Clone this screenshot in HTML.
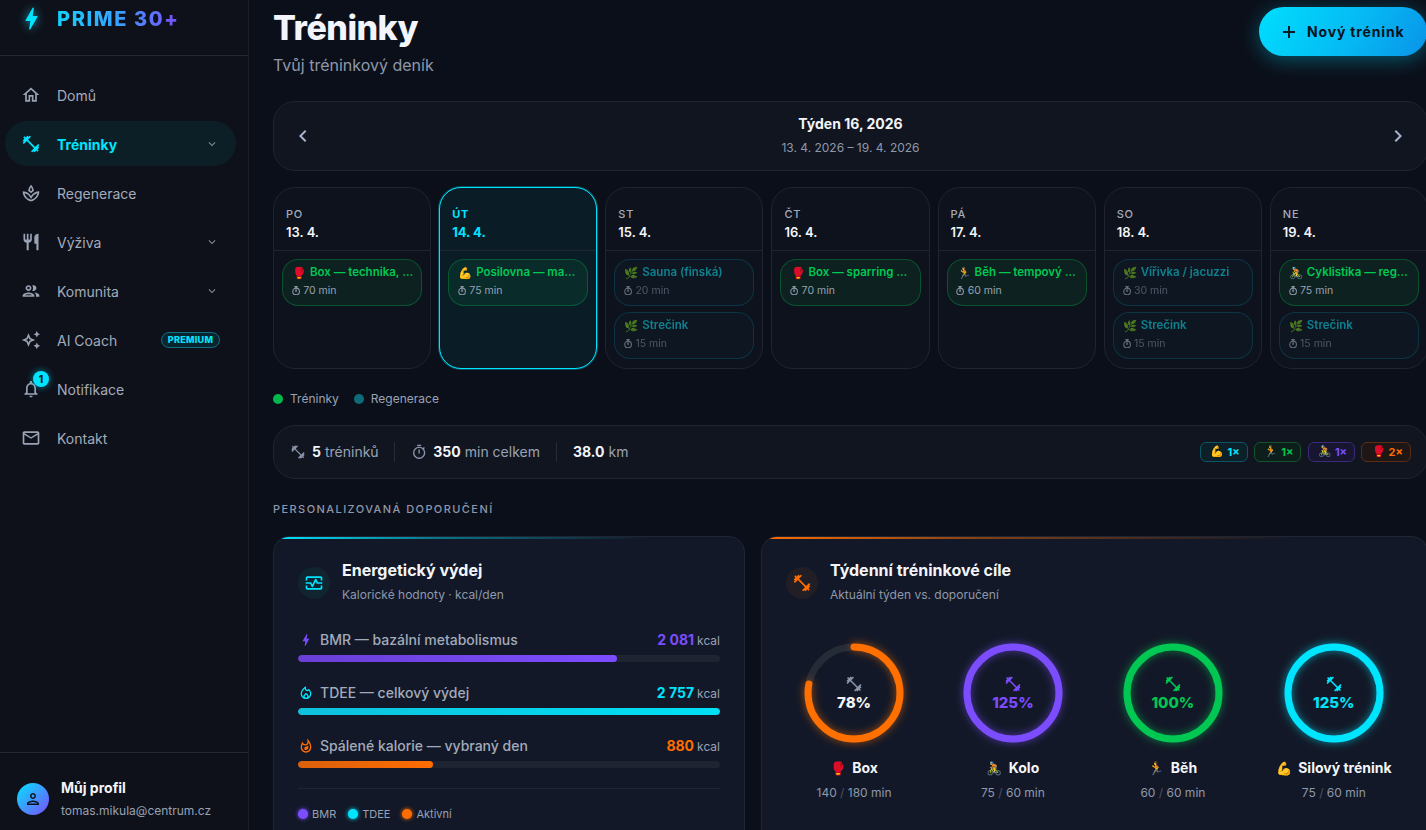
<!DOCTYPE html>
<html lang="cs">
<head>
<meta charset="utf-8">
<title>Tréninky – PRIME 30+</title>
<style>
*{box-sizing:border-box;margin:0;padding:0}
html,body{width:1426px;height:830px;overflow:hidden}
body{background:#0b0f19;font-family:"Inter","Liberation Sans",sans-serif;color:#e6e9ef;position:relative;-webkit-font-smoothing:antialiased}
.emo{font-family:"Noto Color Emoji",sans-serif;font-weight:400}
svg{display:block}
/* SIDEBAR */
.side{position:absolute;left:0;top:0;width:249px;height:830px;background:#0e111a;border-right:1px solid #1d1f26}
.brand{position:absolute;left:0;top:0;width:248px;height:56px;border-bottom:1px solid #232833}
.bolt{position:absolute;left:16.5px;top:4.2px;width:29px;height:29px;filter:drop-shadow(0 0 5px rgba(34,211,238,.75))}
.brandtxt{position:absolute;left:57px;top:7px;font-size:20px;font-weight:800;letter-spacing:.08em;line-height:24px;background:linear-gradient(90deg,#12d2ff 0%,#3aa0ff 50%,#7c4dff 100%);-webkit-background-clip:text;background-clip:text;color:transparent}
.nav{position:absolute;left:0;top:0;width:247px}
.ni{position:absolute;left:5px;width:231px;height:45px;border-radius:23px;display:flex;align-items:center}
.ni svg.ic{position:absolute;left:16.3px;top:13.2px;width:20px;height:20px;fill:#9aa3b5}
.ni .lb{position:absolute;left:52px;top:13.8px;font-size:14px;font-weight:400;color:#a3abbb;line-height:20px}
.ni .chev{position:absolute;left:200px;width:14px;height:14px;fill:#7d8699}
.ni.act{background:#0c1f26}
.ni.act .lb{color:#00e5ff;font-weight:700}
.ni.act svg.ic{fill:#00e5ff}
.prem{position:absolute;left:156px;top:15px;width:59px;height:16px;border-radius:8px;border:1px solid #0e6f80;background:#0b2530;color:#00e5ff;font-size:9px;font-weight:800;letter-spacing:.03em;line-height:14px;text-align:center}
.nbadge{position:absolute;left:28px;top:4.8px;width:16px;height:16px;border-radius:50%;background:#00e5ff;color:#031820;font-size:10px;font-weight:800;line-height:16px;box-shadow:0 0 7px rgba(0,229,255,.55);text-align:center}
.prof{position:absolute;left:0;top:752px;width:248px;height:78px;border-top:1px solid #232833}
.avatar{position:absolute;left:17px;top:30px;width:32px;height:32px;border-radius:50%;background:linear-gradient(135deg,#00e5ff,#7c4dff)}
.pname{position:absolute;left:61px;top:26px;font-size:14px;font-weight:700;color:#f3f5f9;line-height:18px}
.pmail{position:absolute;left:61px;top:50px;font-size:12px;color:#98a1b3;line-height:16px}
/* MAIN */
.main{position:absolute;left:273px;top:0;width:1153px}
h1{position:absolute;left:0;top:6px;font-size:34px;font-weight:800;letter-spacing:-.015em;color:#f3f5fa;line-height:44px;white-space:nowrap}
.sub{position:absolute;left:0;top:55px;font-size:16px;color:#8f98ab;line-height:20px}
.newbtn{position:absolute;left:986px;top:7px;width:168px;height:49px;border-radius:25px;background:linear-gradient(120deg,#00defe 0%,#05baf4 55%,#0a93e8 100%);box-shadow:0 4px 20px rgba(0,200,240,.38);color:#06121b;font-size:14px;font-weight:700}

.newbtn svg{position:absolute;left:24px;top:19px;width:12px;height:12px}
.newbtn span{position:absolute;left:48px;top:16px;line-height:18px;letter-spacing:.06em;white-space:nowrap}
.week{position:absolute;left:0;top:101px;width:1155px;height:70px;border:1px solid #1f2430;border-radius:22px;background:#111520}
.week .arr{position:absolute;top:22px;width:24px;height:24px;fill:#a6b4ca}
.week .wt{position:absolute;left:0;right:0;top:13.4px;text-align:center;font-size:14px;font-weight:700;color:#f3f5f9;line-height:18px}
.week .wd{position:absolute;left:0;right:0;top:38px;text-align:center;font-size:12px;color:#8f98ab;line-height:16px}
.days{position:absolute;left:0;top:187px;width:1155px;height:182px;display:grid;grid-template-columns:repeat(7,1fr);gap:8px}
.day{border:1px solid #1f2430;border-radius:22px;background:#0e121c;overflow:hidden}
.day.today{border:1px solid #00e5ff;background:#0a1d27;box-shadow:0 0 0 1px rgba(0,229,255,.3)}
.dh{height:63px;border-bottom:1px solid #1f2430;padding:19px 0 0 12px}
.dn{font-size:11px;font-weight:500;letter-spacing:.07em;color:#a3abbb;line-height:14px}
.dd{font-size:13px;font-weight:600;color:#f3f5f9;line-height:18px;margin-top:2px}
.day.today .dn,.day.today .dd{color:#00e5ff}
.day.today .dn{font-weight:700}
.day.today .dd{font-weight:700}
.ss{padding:8px 8px 0}
.pill{height:46.5px;border-radius:16px;border:1px solid rgba(0,200,83,.3);background:rgba(0,200,83,.085);padding:4.2px 0 0 10px;margin-bottom:6.5px;white-space:nowrap;overflow:hidden}
.pill.rg{border-color:rgba(8,145,178,.35);background:#0f1a24;opacity:.7}
.pt{font-size:11.5px;font-weight:600;color:#00c853;line-height:16px;display:flex;align-items:center}
.pill.rg .pt{color:#0fb0c0}
.pt .emo{font-size:11.5px;width:17px;display:inline-block;position:relative;top:.8px;left:-.5px}
.pm{position:relative;padding-left:10.2px;font-size:10.5px;color:#98a1b3;line-height:14px;margin-top:4.3px}
.pill.rg .pm{color:#6b7486}
.pm .tm{position:absolute;left:-1.2px;top:1.4px;width:8.2px;height:9.4px;fill:#8a93a5;stroke:#8a93a5}
.legend{position:absolute;left:0;top:391px;height:16px;display:flex;align-items:center;font-size:12px;color:#9aa3b5;line-height:16px}
.legend b{display:inline-block;width:10px;height:10px;border-radius:50%;margin-right:7px}
.stats{position:absolute;left:0;top:425px;width:1155px;height:54px;border:1px solid #1f2430;border-radius:22px;background:#111520}
.st{position:absolute;top:17px;line-height:18px;font-size:14px;color:#9aa3b5;white-space:nowrap;display:flex;align-items:center}
.st b{color:#f3f5f9;font-weight:700;margin-right:4px}
.st svg{width:16px;height:16px;fill:#8a94a8;margin-right:6px}
.vsep{position:absolute;top:16px;width:1px;height:20px;background:#262b37}
.chips{position:absolute;right:16px;top:16px;display:flex;gap:6.3px}
.chip{height:20px;border-radius:6px;border:1px solid;padding:0 7px 0 9.5px;display:flex;align-items:center;font-size:11px;font-weight:700;line-height:18px}
.chip .emo{font-size:11px;margin-right:3px}
.seclbl{position:absolute;left:0;top:501.8px;font-size:11px;font-weight:500;letter-spacing:.13em;color:#8f98ab;line-height:14px;white-space:nowrap}
.card{position:absolute;top:536px;height:320px;border:1px solid #1f2533;border-radius:16px;background:#121827;overflow:hidden}
.card .topline{position:absolute;left:0;top:0;right:0;height:2px}
.cic{position:absolute;left:24px;top:30px;width:32px;height:32px;border-radius:50%}
.cic svg{position:absolute;left:6px;top:6px;width:20px;height:20px}
.ctitle{position:absolute;left:68px;top:23.2px;font-size:16px;font-weight:700;color:#f3f5f9;line-height:20px;white-space:nowrap}
.csub{position:absolute;left:68px;top:50px;font-size:12px;color:#8f98ab;line-height:16px;white-space:nowrap}
.mrow{position:absolute;left:24px;width:422px}
.mrow .ml{position:absolute;left:0;top:0;display:flex;align-items:center;font-size:14px;font-weight:500;color:#a3abbb;line-height:18px;white-space:nowrap}
.mrow .ml svg{width:16px;height:16px;margin-right:6px}
.mrow .mv{position:absolute;right:0;top:0;font-size:14px;font-weight:700;line-height:18px;white-space:nowrap}
.mrow .mv small{font-size:12px;font-weight:400;color:#98a1b3;margin-left:3px}
.bar{position:absolute;left:0;top:24px;width:422px;height:7px;border-radius:4px;background:#1e2431;overflow:hidden}
.bar i{position:absolute;left:0;top:0;bottom:0;border-radius:4px}
.hr{position:absolute;left:24px;width:422px;height:1px;background:#1f2533}
.clg{position:absolute;left:24px;display:flex;align-items:center;font-size:11px;color:#98a1b3;line-height:14px}
.clg b{display:inline-block;width:10px;height:10px;border-radius:50%;margin-right:4px;box-shadow:0 0 4px currentColor}
.ring{position:absolute;top:100.2px;width:136px;text-align:center}
.ring svg.rs{display:block;margin:0 auto;width:112px;height:112px;overflow:visible}
.rin{position:absolute;left:0;right:0;top:37.9px}
.rin svg{width:18px;height:18px;margin:0 auto}
.rin div{font-size:15px;font-weight:800;line-height:18px;margin-top:.5px}
.rlab{position:absolute;left:0;right:0;top:122px;font-size:14px;font-weight:700;color:#f3f5f9;line-height:18px;white-space:nowrap}
.rlab .emo{font-size:13px;margin-right:6px}
.rsub{position:absolute;left:0;right:0;top:148px;font-size:12px;color:#8f98ab;line-height:16px;white-space:nowrap}
.rsub em{font-style:normal;color:#4a5264}
</style>
</head>
<body>
<aside class="side">
  <div class="brand">
    <svg class="bolt" viewBox="0 0 24 24"><path fill="#00e5ff" d="M11 21h-1l1-7H7.5c-.58 0-.57-.32-.38-.66.19-.34.05-.08.07-.12C8.48 10.94 10.42 7.54 13 3h1l-1 7h3.5c.49 0 .56.33.47.51l-.07.15C12.960 17.55 11 21 11 21z"/></svg>
    <div class="brandtxt">PRIME 30+</div>
  </div>
  <nav class="nav">
  <div class="ni" style="top:72px"><svg class="ic" viewBox="0 0 24 24"><path d="M12 5.69l5 4.5V18h-2v-6H9v6H7v-7.81l5-4.5M12 3L2 12h3v8h6v-6h2v6h6v-8h3L12 3z"/></svg><span class="lb">Domů</span></div>
  <div class="ni act" style="top:121px"><svg class="ic" viewBox="0 0 24 24"><path d="M20.57 14.86L22 13.43 20.57 12 17 15.57 8.43 7 12 3.43 10.57 2 9.14 3.43 7.71 2 5.57 4.14 4.14 2.71 2.71 4.14l1.43 1.43L2 7.71l1.43 1.43L2 10.57 3.43 12 7 8.43 15.57 17 12 20.57 13.43 22l1.43-1.43L16.29 22l2.14-2.14 1.43 1.43 1.43-1.43-1.43-1.43L22 16.29z"/></svg><span class="lb">Tréninky</span><svg class="chev" viewBox="0 0 24 24"><path d="M16.59 8.59L12 13.17 7.41 8.59 6 10l6 6 6-6z"/></svg></div>
  <div class="ni" style="top:170px"><svg class="ic" viewBox="0 0 24 24"><path d="M15.49 9.63c-.18-2.79-1.31-5.51-3.43-7.63-2.14 2.14-3.32 4.86-3.55 7.63 1.28.68 2.46 1.56 3.49 2.63 1.03-1.06 2.21-1.94 3.49-2.63zm-3.44-4.44c.63 1.03 1.07 2.18 1.3 3.38-.47.3-.91.63-1.34.98-.42-.34-.87-.67-1.33-.97.25-1.2.71-2.35 1.37-3.39zM12 15.45c-.82-1.25-1.86-2.34-3.06-3.2-.13-.09-.27-.16-.4-.26.13.09.27.17.39.25C6.98 10.83 4.59 10 2 10c0 5.32 3.36 9.82 8.03 11.49.63.23 1.29.4 1.970.51.68-.12 1.33-.29 1.97-.51C18.64 19.82 22 15.32 22 10c-4.18 0-7.850 2.17-10 5.450zm1.32 4.15c-.44.15-.88.27-1.33.37-.44-.09-.87-.21-1.28-.36-3.29-1.18-5.7-3.99-6.45-7.35 1.1.26 2.15.71 3.12 1.33l-.02.01c.13.09.26.18.39.25l.07.04c.99.72 1.84 1.61 2.51 2.65L12 19.1l1.67-2.55c.69-1.05 1.55-1.95 2.53-2.66l.07-.05c.09-.05.18-.11.27-.17l-.01-.02c.98-.65 2.07-1.13 3.2-1.4-.75 3.37-3.15 6.18-6.41 7.35z"/></svg><span class="lb">Regenerace</span></div>
  <div class="ni" style="top:219px"><svg class="ic" viewBox="0 0 24 24"><path d="M11 9H9V2H7v7H5V2H3v7c0 2.12 1.66 3.84 3.75 3.97V22h2.5v-9.03C11.34 12.84 13 11.12 13 9V2h-2v7zm5-3v8h2.5v8H21V2c-2.76 0-5 2.24-5 4z"/></svg><span class="lb">Výživa</span><svg class="chev" viewBox="0 0 24 24"><path d="M16.59 8.59L12 13.17 7.41 8.59 6 10l6 6 6-6z"/></svg></div>
  <div class="ni" style="top:268px"><svg class="ic" viewBox="0 0 24 24"><path d="M9 13.75c-2.34 0-7 1.17-7 3.5V19h14v-1.75c0-2.33-4.66-3.5-7-3.5zM4.34 17c.84-.58 2.87-1.25 4.66-1.25s3.82.67 4.66 1.25H4.34zM9 12c1.93 0 3.5-1.57 3.5-3.5S10.93 5 9 5 5.5 6.57 5.5 8.5 7.07 12 9 12zm0-5c.83 0 1.5.67 1.5 1.5S9.830 10 9 10s-1.5-.67-1.5-1.5S8.17 7 9 7zm7.04 6.81c1.16.84 1.96 1.96 1.96 3.44V19h4v-1.75c0-2.02-3.5-3.17-5.96-3.44zM15 12c1.93 0 3.5-1.57 3.5-3.5S16.93 5 15 5c-.54 0-1.040.13-1.5.35.63.89 1 1.98 1 3.15s-.37 2.26-1 3.15c.46.22.96.35 1.5.35z"/></svg><span class="lb">Komunita</span><svg class="chev" viewBox="0 0 24 24"><path d="M16.59 8.59L12 13.17 7.41 8.59 6 10l6 6 6-6z"/></svg></div>
  <div class="ni" style="top:317px"><svg class="ic" viewBox="0 0 24 24"><path d="M19 9l1.25-2.75L23 5l-2.75-1.25L19 1l-1.25 2.75L15 5l2.75 1.25L19 9zm-7.5.5L9 4 6.5 9.5 1 12l5.5 2.5L9 20l2.5-5.5L17 12l-5.5-2.5zM9.99 12.99 9 15.17l-.99-2.18L5.83 12l2.18-.99L9 8.83l.99 2.18 2.18.99-2.18.99zM19 15l-1.25 2.75L15 19l2.75 1.25L19 23l1.25-2.75L23 19l-2.75-1.25L19 15z"/></svg><span class="lb">AI Coach</span><span class="prem">PREMIUM</span></div>
  <div class="ni" style="top:366px"><svg class="ic" viewBox="0 0 24 24"><path d="M12 22c1.1 0 2-.9 2-2h-4c0 1.1.89 2 2 2zm6-6v-5c0-3.07-1.64-5.64-4.5-6.32V4c0-.83-.67-1.5-1.5-1.5s-1.5.67-1.5 1.5v.68C7.63 5.36 6 7.92 6 11v5l-2 2v1h16v-1l-2-2zm-2 1H8v-6c0-2.48 1.51-4.5 4-4.5s4 2.02 4 4.5v6z"/></svg><span class="lb">Notifikace</span><span class="nbadge">1</span></div>
  <div class="ni" style="top:415px"><svg class="ic" viewBox="0 0 24 24"><path d="M22 6c0-1.1-.9-2-2-2H4c-1.1 0-2 .9-2 2v12c0 1.1.9 2 2 2h16c1.1 0 2-.9 2-2V6zm-2 0l-8 5-8-5h16zm0 12H4V8l8 5 8-5v10z"/></svg><span class="lb">Kontakt</span></div>
  </nav>
  <div class="prof">
    <div class="avatar"><svg viewBox="0 0 24 24" style="position:absolute;left:7px;top:7px;width:18px;height:18px"><path fill="#0b1220" d="M12 6c1.1 0 2 .9 2 2s-.9 2-2 2-2-.9-2-2 .9-2 2-2m0 10c2.7 0 5.8 1.29 6 2H6c.23-.72 3.31-2 6-2m0-12C9.79 4 8 5.790 8 8s1.79 4 4 4 4-1.79 4-4-1.79-4-4-4zm0 10c-2.67 0-8 1.34-8 4v2h16v-2c0-2.66-5.33-4-8-4z"/></svg></div>
    <div class="pname">Můj profil</div>
    <div class="pmail">tomas.mikula@centrum.cz</div>
  </div>
</aside>
<main class="main">
  <h1>Tréninky</h1>
  <div class="sub">Tvůj tréninkový deník</div>
  <div class="newbtn"><svg viewBox="0 0 12 12"><path d="M6 0v12M0 6h12" stroke="#0a1a24" stroke-width="2"/></svg><span>Nový trénink</span></div>
  <div class="week">
    <svg class="arr" style="left:17px" viewBox="0 0 24 24"><path d="M15.41 7.41L14 6l-6 6 6 6 1.41-1.41L10.83 12z"/></svg>
    <div class="wt">Týden 16, 2026</div>
    <div class="wd">13. 4. 2026 – 19. 4. 2026</div>
    <svg class="arr" style="right:17px" viewBox="0 0 24 24"><path d="M8.59 16.59L10 18l6-6-6-6-1.41 1.41L13.17 12z"/></svg>
  </div>
  <div class="days">
    <div class="day"><div class="dh"><div class="dn">PO</div><div class="dd">13. 4.</div></div><div class="ss"><div class="pill"><div class="pt"><span class="emo">🥊</span>Box — technika, …</div><div class="pm"><svg class="tm" viewBox="0 0 8.2 9.4"><rect x="2.85" y="0" width="2.5" height="1.1" rx=".3"/><rect x="3.65" y="1" width=".9" height="1.1"/><circle cx="4.1" cy="5.5" r="3.35" fill="none" stroke-width="1.1"/><rect x="3.6" y="3.6" width="1" height="2.2" rx=".4" opacity=".8"/></svg>70 min</div></div></div></div>
    <div class="day today"><div class="dh"><div class="dn">ÚT</div><div class="dd">14. 4.</div></div><div class="ss"><div class="pill"><div class="pt"><span class="emo">💪</span>Posilovna — ma…</div><div class="pm"><svg class="tm" viewBox="0 0 8.2 9.4"><rect x="2.85" y="0" width="2.5" height="1.1" rx=".3"/><rect x="3.65" y="1" width=".9" height="1.1"/><circle cx="4.1" cy="5.5" r="3.35" fill="none" stroke-width="1.1"/><rect x="3.6" y="3.6" width="1" height="2.2" rx=".4" opacity=".8"/></svg>75 min</div></div></div></div>
    <div class="day"><div class="dh"><div class="dn">ST</div><div class="dd">15. 4.</div></div><div class="ss"><div class="pill rg"><div class="pt"><span class="emo">🌿</span>Sauna (finská)</div><div class="pm"><svg class="tm" viewBox="0 0 8.2 9.4"><rect x="2.85" y="0" width="2.5" height="1.1" rx=".3"/><rect x="3.65" y="1" width=".9" height="1.1"/><circle cx="4.1" cy="5.5" r="3.35" fill="none" stroke-width="1.1"/><rect x="3.6" y="3.6" width="1" height="2.2" rx=".4" opacity=".8"/></svg>20 min</div></div><div class="pill rg"><div class="pt"><span class="emo">🌿</span>Strečink</div><div class="pm"><svg class="tm" viewBox="0 0 8.2 9.4"><rect x="2.85" y="0" width="2.5" height="1.1" rx=".3"/><rect x="3.65" y="1" width=".9" height="1.1"/><circle cx="4.1" cy="5.5" r="3.35" fill="none" stroke-width="1.1"/><rect x="3.6" y="3.6" width="1" height="2.2" rx=".4" opacity=".8"/></svg>15 min</div></div></div></div>
    <div class="day"><div class="dh"><div class="dn">ČT</div><div class="dd">16. 4.</div></div><div class="ss"><div class="pill"><div class="pt"><span class="emo">🥊</span>Box — sparring …</div><div class="pm"><svg class="tm" viewBox="0 0 8.2 9.4"><rect x="2.85" y="0" width="2.5" height="1.1" rx=".3"/><rect x="3.65" y="1" width=".9" height="1.1"/><circle cx="4.1" cy="5.5" r="3.35" fill="none" stroke-width="1.1"/><rect x="3.6" y="3.6" width="1" height="2.2" rx=".4" opacity=".8"/></svg>70 min</div></div></div></div>
    <div class="day"><div class="dh"><div class="dn">PÁ</div><div class="dd">17. 4.</div></div><div class="ss"><div class="pill"><div class="pt"><span class="emo">🏃</span>Běh — tempový …</div><div class="pm"><svg class="tm" viewBox="0 0 8.2 9.4"><rect x="2.85" y="0" width="2.5" height="1.1" rx=".3"/><rect x="3.65" y="1" width=".9" height="1.1"/><circle cx="4.1" cy="5.5" r="3.35" fill="none" stroke-width="1.1"/><rect x="3.6" y="3.6" width="1" height="2.2" rx=".4" opacity=".8"/></svg>60 min</div></div></div></div>
    <div class="day"><div class="dh"><div class="dn">SO</div><div class="dd">18. 4.</div></div><div class="ss"><div class="pill rg"><div class="pt"><span class="emo">🌿</span>Vířivka / jacuzzi</div><div class="pm"><svg class="tm" viewBox="0 0 8.2 9.4"><rect x="2.85" y="0" width="2.5" height="1.1" rx=".3"/><rect x="3.65" y="1" width=".9" height="1.1"/><circle cx="4.1" cy="5.5" r="3.35" fill="none" stroke-width="1.1"/><rect x="3.6" y="3.6" width="1" height="2.2" rx=".4" opacity=".8"/></svg>30 min</div></div><div class="pill rg"><div class="pt"><span class="emo">🌿</span>Strečink</div><div class="pm"><svg class="tm" viewBox="0 0 8.2 9.4"><rect x="2.85" y="0" width="2.5" height="1.1" rx=".3"/><rect x="3.65" y="1" width=".9" height="1.1"/><circle cx="4.1" cy="5.5" r="3.35" fill="none" stroke-width="1.1"/><rect x="3.6" y="3.6" width="1" height="2.2" rx=".4" opacity=".8"/></svg>15 min</div></div></div></div>
    <div class="day"><div class="dh"><div class="dn">NE</div><div class="dd">19. 4.</div></div><div class="ss"><div class="pill"><div class="pt"><span class="emo">🚴</span>Cyklistika — reg…</div><div class="pm"><svg class="tm" viewBox="0 0 8.2 9.4"><rect x="2.85" y="0" width="2.5" height="1.1" rx=".3"/><rect x="3.65" y="1" width=".9" height="1.1"/><circle cx="4.1" cy="5.5" r="3.35" fill="none" stroke-width="1.1"/><rect x="3.6" y="3.6" width="1" height="2.2" rx=".4" opacity=".8"/></svg>75 min</div></div><div class="pill rg"><div class="pt"><span class="emo">🌿</span>Strečink</div><div class="pm"><svg class="tm" viewBox="0 0 8.2 9.4"><rect x="2.85" y="0" width="2.5" height="1.1" rx=".3"/><rect x="3.65" y="1" width=".9" height="1.1"/><circle cx="4.1" cy="5.5" r="3.35" fill="none" stroke-width="1.1"/><rect x="3.6" y="3.6" width="1" height="2.2" rx=".4" opacity=".8"/></svg>15 min</div></div></div></div>
  </div>
  <div class="legend"><b style="background:#00b84c"></b>Tréninky<b style="background:#0e6b7a;margin-left:15px"></b>Regenerace</div>
  <div class="stats">
    <div class="st" style="left:16px"><svg viewBox="0 0 24 24"><path d="M20.57 14.86L22 13.43 20.57 12 17 15.57 8.43 7 12 3.43 10.57 2 9.14 3.43 7.71 2 5.57 4.14 4.14 2.71 2.71 4.14l1.43 1.43L2 7.71l1.43 1.43L2 10.57 3.43 12 7 8.43 15.57 17 12 20.57 13.43 22l1.43-1.43L16.29 22l2.14-2.14 1.43 1.43 1.43-1.43-1.43-1.43L22 16.29z"/></svg><b>5</b>tréninků</div>
    <div class="vsep" style="left:120px"></div>
    <div class="st" style="left:137px"><svg viewBox="0 0 24 24" style="width:16.3px;height:16.3px"><path d="M15 1H9v2h6V1zm-4 13h2V8h-2v6zm8.03-6.61l1.42-1.42c-.43-.51-.9-.99-1.41-1.41l-1.42 1.42C16.07 4.74 14.12 4 12 4c-4.97 0-9 4.030-9 9s4.02 9 9 9 9-4.03 9-9c0-2.12-.74-4.07-1.97-5.61zM12 20c-3.87 0-7-3.13-7-7s3.13-7 7-7 7 3.13 7 7-3.13 7-7 7z"/></svg><b>350</b>min celkem</div>
    <div class="vsep" style="left:282px"></div>
    <div class="st" style="left:299px"><b>38.0</b>km</div>
    <div class="chips">
      <div class="chip" style="border-color:#0e5563;background:#0b2029;color:#00e5ff"><span class="emo">💪</span>1×</div>
      <div class="chip" style="border-color:#14532d;background:#0c1f1a;color:#00c853"><span class="emo">🏃</span>1×</div>
      <div class="chip" style="border-color:#3b2a78;background:#17152f;color:#7c4dff"><span class="emo">🚴</span>1×</div>
      <div class="chip" style="border-color:#5a2d12;background:#1f1716;color:#ff6d00"><span class="emo">🥊</span>2×</div>
    </div>
  </div>
  <div class="seclbl">PERSONALIZOVANÁ DOPORUČENÍ</div>
  <div class="card" style="left:0;width:472px">
    <div class="topline" style="background:linear-gradient(90deg,#00e5ff 0%,rgba(0,229,255,.45) 35%,rgba(0,229,255,0) 80%)"></div>
    <div class="cic" style="background:#10252f"><svg viewBox="0 0 24 24"><path fill="#00e5ff" d="M20 4H4c-1.1 0-2 .9-2 2v3h2V6h16v3h2V6c0-1.1-.9-2-2-2zm0 14H4v-3H2v3c0 1.1.9 2 2 2h16c1.1 0 2-.9 2-2v-3h-2v3zM14.89 7.55c-.34-.68-1.45-.68-1.79 0L10 13.76l-1.11-2.21C8.72 11.21 8.37 11 8 11H2v2h5.38l1.72 3.45c.18.34.52.55.9.55s.72-.21.89-.55L14 10.24l1.11 2.21c.17.34.52.55.89.55h6v-2h-5.38l-1.73-3.45z"/></svg></div>
    <div class="ctitle">Energetický výdej</div>
    <div class="csub">Kalorické hodnoty · kcal/den</div>
    <div class="mrow" style="top:94px"><div class="ml"><svg viewBox="0 0 24 24"><path fill="#7c4dff" d="M11 21h-1l1-7H7.5c-.58 0-.57-.32-.38-.66.19-.34.05-.08.07-.12C8.48 10.94 10.42 7.54 13 3h1l-1 7h3.5c.49 0 .56.33.47.51l-.07.15C12.96 17.55 11 21 11 21z"/></svg>BMR — bazální metabolismus</div><div class="mv" style="color:#7c4dff">2 081<small>kcal</small></div><div class="bar"><i style="width:75.5%;background:linear-gradient(90deg,#6a3fd6,#7c4dff)"></i></div></div>
    <div class="mrow" style="top:147px"><div class="ml"><svg viewBox="0 0 24 24"><path fill="#00e5ff" d="M16 6l-.44.55c-.42.52-.98.75-1.54.75C13 7.3 12 6.52 12 5.3V2S4 6 4 13c0 4.42 3.58 8 8 8s8-3.58 8-8c0-2.96-1.61-5.62-4-7zm-4 13c-1.1 0-2-.87-2-1.94 0-.51.2-.99.58-1.36l1.42-1.4 1.43 1.4c.37.37.57.85.57 1.36 0 1.07-.9 1.94-2 1.94zm3.96-1.5c.04-.36.22-1.89-1.13-3.22L12 11.5l-2.83 2.78C7.81 15.62 8 17.16 8.04 17.5 6.79 16.4 6 14.79 6 13c0-3.16 2.130-5.650 4.03-7.25.23 1.99 1.93 3.55 3.99 3.55.78 0 1.54-.23 2.18-.66C17.34 9.78 18 11.35 18 13c0 1.79-.79 3.4-2.04 4.5z"/></svg>TDEE — celkový výdej</div><div class="mv" style="color:#00e5ff">2 757<small>kcal</small></div><div class="bar"><i style="width:100%;background:linear-gradient(90deg,#0fc1dc,#00e0f5)"></i></div></div>
    <div class="mrow" style="top:200px"><div class="ml"><svg viewBox="0 0 24 24"><path fill="#ff6d00" d="M11.57 13.16c-1.36.28-2.17 1.16-2.17 2.41 0 1.34 1.11 2.42 2.49 2.42 2.05 0 3.71-1.66 3.71-3.71 0-1.07-.15-2.12-.46-3.12-.79 1.07-2.2 1.72-3.57 2zM13.5.67s.74 2.65.74 4.8c0 2.06-1.35 3.73-3.41 3.73-2.07 0-3.63-1.67-3.63-3.73l.03-.36C5.21 7.51 4 10.62 4 14c0 4.42 3.58 8 8 8s8-3.58 8-8C20 8.61 17.41 3.8 13.5.67zM12 20c-3.31 0-6-2.69-6-6 0-1.53.3-3.04.86-4.43 1.01 1.01 2.41 1.63 3.97 1.63 2.66 0 4.75-1.830 5.28-4.43C17.34 8.97 18 11.44 18 14c0 3.31-2.69 6-6 6z"/></svg>Spálené kalorie — vybraný den</div><div class="mv" style="color:#ff6d00">880<small>kcal</small></div><div class="bar"><i style="width:32%;background:linear-gradient(90deg,#d9600c,#ff6d00)"></i></div></div>
    <div class="hr" style="top:251px"></div>
    <div class="clg" style="top:269.6px"><b style="background:#7c4dff;color:#7c4dff"></b>BMR<b style="background:#00e5ff;color:#00e5ff;margin-left:12px"></b>TDEE<b style="background:#ff6d00;color:#ff6d00;margin-left:12px"></b>Aktivní</div>
  </div>
  <div class="card" style="left:488px;width:667px">
    <div class="topline" style="background:linear-gradient(90deg,#ff6d00 0%,rgba(255,109,0,.45) 35%,rgba(255,109,0,0) 80%)"></div>
    <div class="cic" style="background:#221e25"><svg viewBox="0 0 24 24"><path fill="#ff6d00" d="M20.57 14.86L22 13.43 20.57 12 17 15.57 8.43 7 12 3.43 10.57 2 9.14 3.43 7.71 2 5.57 4.14 4.14 2.71 2.71 4.14l1.43 1.43L2 7.71l1.43 1.43L2 10.57 3.43 12 7 8.43 15.57 17 12 20.57 13.43 22l1.43-1.43L16.29 22l2.14-2.14 1.43 1.43 1.43-1.43-1.43-1.43L22 16.29z"/></svg></div>
    <div class="ctitle">Týdenní tréninkové cíle</div>
    <div class="csub">Aktuální týden vs. doporučení</div>
    <div class="ring" style="left:24.06px"><svg class="rs" viewBox="0 0 112 112"><circle cx="56" cy="56" r="46" fill="none" stroke="#252b37" stroke-width="7"/><circle cx="56" cy="56" r="46" fill="none" stroke="#ff7000" stroke-width="7" stroke-linecap="round" stroke-dasharray="225.44 289.03" transform="rotate(-90 56 56)" style="filter:drop-shadow(0 0 4px #ff700099)"/></svg><div class="rin"><svg viewBox="0 0 24 24"><path fill="#8a94a8" d="M20.57 14.86L22 13.43 20.57 12 17 15.57 8.43 7 12 3.43 10.57 2 9.14 3.43 7.71 2 5.57 4.14 4.14 2.71 2.71 4.14l1.43 1.43L2 7.71l1.43 1.43L2 10.57 3.43 12 7 8.43 15.57 17 12 20.57 13.43 22l1.43-1.43L16.29 22l2.14-2.14 1.43 1.43 1.43-1.43-1.43-1.43L22 16.29z"/></svg><div style="color:#f3f5f9">78%</div></div><div class="rlab"><span class="emo">🥊</span>Box</div><div class="rsub">140 <em>/</em> 180 min</div></div>
    <div class="ring" style="left:182.9px"><svg class="rs" viewBox="0 0 112 112"><circle cx="56" cy="56" r="46" fill="none" stroke="#252b37" stroke-width="7"/><circle cx="56" cy="56" r="46" fill="none" stroke="#7c4dff" stroke-width="7" stroke-linecap="round" stroke-dasharray="289.03 289.03" transform="rotate(-90 56 56)" style="filter:drop-shadow(0 0 4px #7c4dff99)"/></svg><div class="rin"><svg viewBox="0 0 24 24"><path fill="#7c4dff" d="M20.57 14.86L22 13.43 20.57 12 17 15.57 8.43 7 12 3.43 10.57 2 9.14 3.43 7.71 2 5.57 4.14 4.14 2.71 2.71 4.14l1.43 1.43L2 7.71l1.43 1.43L2 10.57 3.43 12 7 8.43 15.57 17 12 20.57 13.43 22l1.43-1.43L16.29 22l2.14-2.14 1.43 1.43 1.43-1.43-1.43-1.43L22 16.29z"/></svg><div style="color:#7c4dff">125%</div></div><div class="rlab"><span class="emo">🚴</span>Kolo</div><div class="rsub">75 <em>/</em> 60 min</div></div>
    <div class="ring" style="left:342.9px"><svg class="rs" viewBox="0 0 112 112"><circle cx="56" cy="56" r="46" fill="none" stroke="#252b37" stroke-width="7"/><circle cx="56" cy="56" r="46" fill="none" stroke="#00c853" stroke-width="7" stroke-linecap="round" stroke-dasharray="289.03 289.03" transform="rotate(-90 56 56)" style="filter:drop-shadow(0 0 4px #00c85399)"/></svg><div class="rin"><svg viewBox="0 0 24 24"><path fill="#00c853" d="M20.57 14.86L22 13.43 20.57 12 17 15.57 8.43 7 12 3.43 10.57 2 9.14 3.43 7.71 2 5.57 4.14 4.14 2.71 2.71 4.14l1.43 1.43L2 7.71l1.43 1.43L2 10.57 3.43 12 7 8.43 15.57 17 12 20.57 13.43 22l1.43-1.43L16.29 22l2.14-2.14 1.43 1.43 1.43-1.43-1.43-1.43L22 16.29z"/></svg><div style="color:#00c853">100%</div></div><div class="rlab"><span class="emo">🏃</span>Běh</div><div class="rsub">60 <em>/</em> 60 min</div></div>
    <div class="ring" style="left:503.8px"><svg class="rs" viewBox="0 0 112 112"><circle cx="56" cy="56" r="46" fill="none" stroke="#252b37" stroke-width="7"/><circle cx="56" cy="56" r="46" fill="none" stroke="#00e5ff" stroke-width="7" stroke-linecap="round" stroke-dasharray="289.03 289.03" transform="rotate(-90 56 56)" style="filter:drop-shadow(0 0 4px #00e5ff99)"/></svg><div class="rin"><svg viewBox="0 0 24 24"><path fill="#00e5ff" d="M20.57 14.86L22 13.43 20.57 12 17 15.57 8.43 7 12 3.43 10.57 2 9.14 3.43 7.71 2 5.57 4.14 4.14 2.71 2.71 4.14l1.43 1.43L2 7.71l1.43 1.43L2 10.57 3.43 12 7 8.43 15.57 17 12 20.57 13.43 22l1.43-1.43L16.29 22l2.14-2.14 1.43 1.43 1.43-1.43-1.43-1.43L22 16.29z"/></svg><div style="color:#00e5ff">125%</div></div><div class="rlab"><span class="emo">💪</span>Silový trénink</div><div class="rsub">75 <em>/</em> 60 min</div></div>
  </div>
</main>
</body>
</html>
